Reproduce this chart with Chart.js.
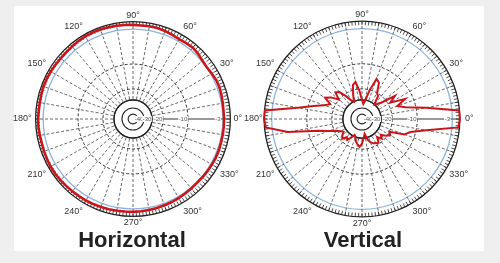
<!DOCTYPE html>
<html>
<head>
<meta charset="utf-8">
<script src="https://cdn.jsdelivr.net/npm/chart.js@4.4.1/dist/chart.umd.min.js"></script>
<style>
  html, body { margin: 0; padding: 0; width: 500px; height: 263px; overflow: hidden; background: #efefef; font-family: "Liberation Sans", Arial, sans-serif; }
  #panel { position: absolute; left: 14px; top: 6px; width: 470px; height: 245px; background: #fff; }
  canvas { position: absolute; }
  .title { position: absolute; top: 227px; width: 200px; line-height: 25px; text-align: center; font-weight: bold; font-size: 22px; color: #222; }
</style>
</head>
<body>
<div id="panel"></div>
<canvas id="horiz" width="241" height="241" style="left:7px;top:-1px"></canvas>
<canvas id="vert" width="237" height="237" style="left:241px;top:1px"></canvas>
<div class="title" style="left:32px">Horizontal</div>
<div class="title" style="left:263px">Vertical</div>
<script>
// angles in degrees, counter-clockwise from 0° (right)
const ANGLES = Array.from({length: 72}, (_, i) => i * 5);

// gain in dB at each angle
const HORIZONTAL_DB = [
  -2.5, -2.6, -2.5, -2.3, -2.1, -2.2, -2.6, -2.9, -2.7, -2.1, -1.7, -1.9,
  -2.1, -1.8, -1.5, -1.3, -1.3, -1.4, -1.3, -1.2, -1.1, -1.0, -0.9, -0.8,
  -0.8, -0.9, -1.1, -1.2, -1.2, -1.1, -1.0, -0.9, -0.9, -1.0, -1.1, -1.1,
  -1.0, -1.0, -1.1, -1.2, -1.1, -1.0, -0.9, -0.9, -1.0, -1.1, -1.2, -1.3,
  -1.3, -1.4, -1.5, -1.6, -1.7, -1.8, -1.8, -1.9, -2.0, -2.1, -2.2, -2.3,
  -2.4, -2.6, -2.7, -2.8, -2.7, -2.6, -2.5, -2.4, -2.4, -2.5, -2.5, -2.5
];
const VERTICAL_DB = [
  0, -0.2, -8, -14, -17, -13, -19, -16, -24, -28, -30, -22,
  -20, -16, -15, -20, -30, -35, -30, -22, -17, -18, -24, -30,
  -28, -22, -18, -17, -20, -17, -15, -18, -16, -12, -8, -0.2,
  0, -0.5, -6, -14, -18, -22, -25, -27, -24, -22, -26, -24,
  -28, -32, -30, -26, -24, -22, -25, -30, -35, -28, -25, -23,
  -22, -21, -26, -22, -25, -21, -19, -20, -14, -12, -8, -0.5
];

// grid rings (dB) and the labels printed on the 0° axis
const RING_DB = [-50, -40, -30, -20, -10, -3, 0];
const RING_LABELS = ['', '-40', '-30', '-20', '-10', '-3', ''];

// the printed grid is not linear in dB: radius fraction read off each ring
const SCALE_DB = [-60, -50, -40, -30, -20, -10, -3, 0];
const SCALE_R = [0, 0.05, 0.113, 0.195, 0.308, 0.564, 0.923, 1];

function dbToR(db) {
  if (db <= SCALE_DB[0]) return 0;
  for (let i = 1; i < SCALE_DB.length; i++) {
    if (db <= SCALE_DB[i]) {
      const t = (db - SCALE_DB[i - 1]) / (SCALE_DB[i] - SCALE_DB[i - 1]);
      return SCALE_R[i - 1] + t * (SCALE_R[i] - SCALE_R[i - 1]);
    }
  }
  return 1;
}

// radar runs clockwise, the pattern counter-clockwise
const order = ANGLES.map((_, i) => (ANGLES.length - i) % ANGLES.length);

const polarExtras = {
  id: 'polarExtras',
  beforeDatasetsDraw(chart) {
    const s = chart.scales.r;
    const ctx = chart.ctx;
    const R = s.drawingArea;
    const cx = s.xCenter, cy = s.yCenter;
    const dist = (db) => s.getDistanceFromCenterForValue(dbToR(db));
    ctx.save();
    // hatched outer rim
    ctx.strokeStyle = '#222';
    ctx.lineWidth = 0.8;
    ctx.beginPath();
    for (let a = 0; a < 360; a += 2) {
      const t = a * Math.PI / 180;
      ctx.moveTo(cx + (R - 4) * Math.cos(t), cy - (R - 4) * Math.sin(t));
      ctx.lineTo(cx + R * Math.cos(t), cy - R * Math.sin(t));
    }
    ctx.stroke();
    // the spokes stop at the -30 dB circle
    ctx.fillStyle = '#fff';
    ctx.beginPath();
    ctx.arc(cx, cy, dist(-30) - 0.5, 0, Math.PI * 2);
    ctx.fill();
    ctx.strokeStyle = '#222';
    [-30, -40, -50].forEach(db => {
      ctx.lineWidth = db === -30 ? 1.4 : 1.1;
      ctx.beginPath();
      ctx.arc(cx, cy, dist(db), 0, Math.PI * 2);
      ctx.stroke();
    });
    ctx.strokeStyle = '#777';
    ctx.lineWidth = 1.6;
    ctx.beginPath();
    ctx.moveTo(cx + dist(-40), cy);
    ctx.lineTo(cx + dist(-30), cy);
    ctx.stroke();
    // dB labels along the 0° axis
    ctx.font = '6px "Liberation Sans"';
    ctx.textAlign = 'center';
    ctx.textBaseline = 'middle';
    RING_DB.forEach((db, i) => {
      const label = RING_LABELS[i];
      if (!label) return;
      const x = cx + dist(db) - 5;
      const w = ctx.measureText(label).width;
      ctx.fillStyle = '#fff';
      ctx.fillRect(x - w / 2 - 0.5, cy - 3, w + 1, 6);
      ctx.fillStyle = '#555';
      ctx.fillText(label, x, cy);
    });
    ctx.restore();
  }
};

function ringStyle(ctx) {
  const db = RING_DB[ctx.index - 1];
  if (db === -3) return {color: '#8fb4da', width: 1.3, dash: []};
  if (db === -10 || db === -20) return {color: '#333', width: 1, dash: [3, 2]};
  if (db === 0) return {color: '#222', width: 1.3, dash: []};
  return {color: '#222', width: 1.1, dash: []};
}

function makeChart(id, values, width, padLeft, padRight) {
  return new Chart(document.getElementById(id), {
    type: 'radar',
    data: {
      labels: order.map(i => ANGLES[i]),
      datasets: [{
        data: order.map(i => dbToR(values[i])),
        borderColor: '#c8161d',
        backgroundColor: 'transparent',
        borderWidth: width,
        pointRadius: 0,
        fill: false,
        tension: 0
      }]
    },
    plugins: [polarExtras],
    options: {
      responsive: false,
      animation: false,
      events: [],
      layout: {padding: 0},
      plugins: {legend: {display: false}, tooltip: {enabled: false}},
      scales: {
        r: {
          min: 0,
          max: 1,
          startAngle: 90,
          afterBuildTicks: (s) => {
            s.ticks = [{value: 0}].concat(RING_DB.map(db => ({value: dbToR(db)})));
          },
          ticks: {display: false},
          grid: {
            circular: true,
            color: (ctx) => ringStyle(ctx).color,
            lineWidth: (ctx) => ringStyle(ctx).width
          },
          border: {dash: (ctx) => ringStyle(ctx).dash},
          angleLines: {
            color: (ctx) => ctx.index === 0 ? '#777' : '#444',
            lineWidth: (ctx) => ctx.index === 0 ? 1.6 : (ctx.index % 2 ? 0 : 0.8),
            borderDash: (ctx) => ctx.index === 0 ? [] : [3, 2]
          },
          pointLabels: {
            font: {size: 9, family: 'Liberation Sans'},
            color: '#333',
            padding: (ctx) => {
              if (ctx.index === 0) return padRight;
              if (ctx.index === 36) return padLeft;
              if (ctx.index === 18 || ctx.index === 54) return 1;
              return 3;
            },
            callback: (label) => label % 30 === 0 ? label + '°' : ''
          }
        }
      }
    }
  });
}

makeChart('horiz', HORIZONTAL_DB, 2.6, 4, 3);
makeChart('vert', VERTICAL_DB, 2, 1.5, 5);
</script>
</body>
</html>
